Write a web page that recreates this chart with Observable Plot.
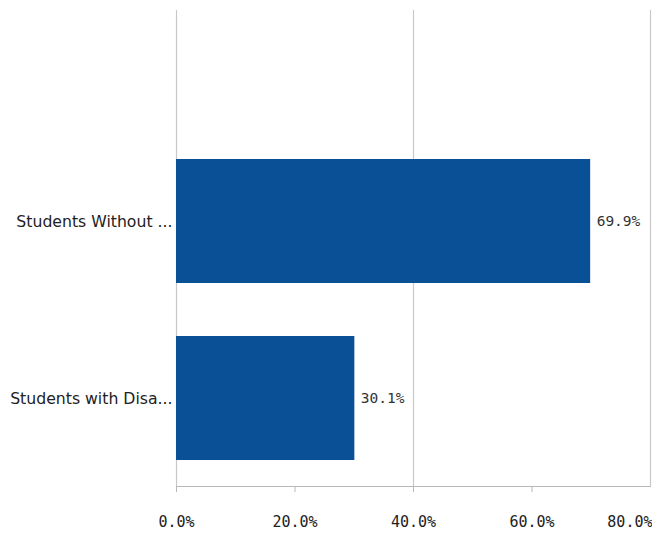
<!DOCTYPE html>
<html><head><meta charset="utf-8">
<script src="https://cdn.jsdelivr.net/npm/d3@7"></script>
<script src="https://cdn.jsdelivr.net/npm/@observablehq/plot@0.6"></script>
<style>body{margin:0;background:#fff;} svg{display:block;}</style>
</head><body><div id="chart"></div>
<script>
const categories = ["Students Without ...", "Students with Disa..."];
const values = [69.9, 30.1];
const xTicks = [0, 20, 40, 60, 80];
const gridTicks = [0, 40, 80];

const data = categories.map((c, i) => ({category: c, value: values[i]}));
const fmt = v => v.toFixed(1) + "%";
const mono = "DejaVu Sans Mono, monospace";

const chart = Plot.plot({
  width: 652,
  height: 538,
  marginLeft: 176,
  marginRight: 2,
  marginTop: 10,
  marginBottom: 52,
  style: {fontFamily: "DejaVu Sans, sans-serif", background: "#fff"},
  x: {domain: [0, 80]},
  y: {domain: categories, range: [105, 513], padding: 0.3, axis: null},
  marks: [
    Plot.ruleX(gridTicks, {stroke: "#c8c8c8", strokeWidth: 1.2}),
    Plot.barX(data, {x: "value", y: "category", fill: "#0a5096"}),
    Plot.text(data, {x: "value", y: "category", text: d => fmt(d.value), textAnchor: "start", dx: 6, fontSize: 14.5, fontFamily: mono, fill: "#333"}),
    Plot.text(data, {x: 0, y: "category", text: "category", textAnchor: "end", dx: -4, fontSize: 15.7, fill: "#222"}),
    Plot.frame({anchor: "bottom", stroke: "#b8b8b8"}),
    Plot.axisX({ticks: xTicks.slice(0, -1), tickFormat: fmt, tickSize: 6, tickPadding: 24, stroke: "#b8b8b8", fontSize: 15, fontFamily: mono, color: "#222", label: null}),
    Plot.axisX({ticks: xTicks.slice(-1), tickFormat: fmt, tickSize: 6, tickPadding: 24, textAnchor: "end", dx: 2, stroke: "#b8b8b8", fontSize: 15, fontFamily: mono, color: "#222", label: null})
  ]
});
document.getElementById("chart").append(chart);
</script></body></html>
